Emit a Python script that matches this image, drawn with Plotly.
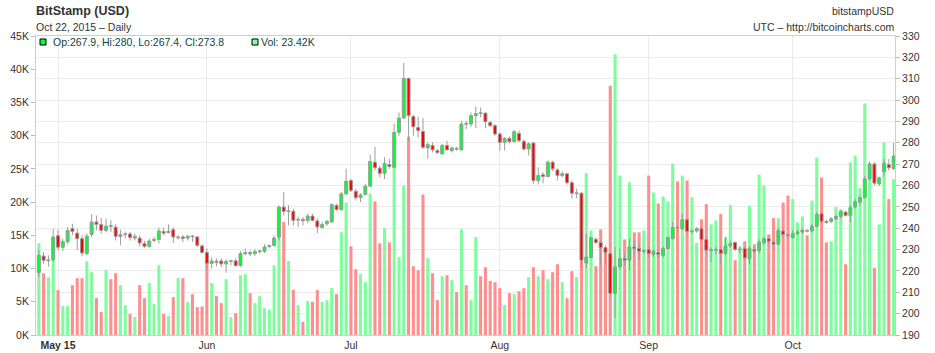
import pandas as pd
import plotly.graph_objects as go

start_date = "2015-04-27"
opens = [219.3,227.0,224.8,225.3,236.5,231.1,233.7,239.8,237.7,235.1,228.1,237.1,242.9,241.7,239.0,241.2,240.5,236.2,237.0,237.3,
235.4,235.4,232.8,231.5,234.3,234.7,238.5,238.0,239.3,235.5,235.9,235.4,236.2,235.9,231.7,228.6,223.5,224.5,224.7,223.3,
224.5,224.7,222.5,228.0,228.6,228.1,229.0,229.2,231.4,232.0,235.9,249.9,247.8,247.9,243.8,244.1,243.7,245.7,243.4,240.4,
242.1,242.9,250.7,248.7,256.1,262.3,257.3,254.3,255.8,259.7,270.9,268.1,265.7,269.8,268.5,284.9,291.6,310.1,292.3,287.2,
285.3,277.6,278.7,276.3,274.8,278.7,276.3,277.3,276.7,288.9,288.8,292.7,294.0,293.9,289.5,288.0,284.1,280.2,282.1,280.5,
284.4,280.7,277.1,279.9,262.3,265.0,264.2,270.9,267.3,264.7,265.5,261.3,256.2,256.4,223.7,226.3,234.8,233.3,230.9,228.1,
209.5,221.9,225.8,225.0,231.2,230.5,229.2,230.0,227.7,228.6,227.3,230.5,235.1,240.4,239.8,244.0,238.4,238.7,239.8,234.7,
229.6,229.7,230.0,228.1,231.7,233.3,229.9,230.5,225.6,230.0,229.5,233.1,235.1,233.5,232.5,238.7,236.9,235.6,237.5,238.2,
238.9,238.7,240.9,246.8,243.2,243.2,244.4,245.5,247.5,246.0,249.9,252.2,254.3,263.1,270.1,260.8,266.5,269.8,267.9]
highs = [229.7,228.9,227.3,239.8,239.3,235.1,240.5,242.1,239.8,236.7,237.5,246.5,246.0,244.9,244.4,243.7,241.8,239.3,238.5,238.2,
237.5,236.7,234.0,235.1,235.9,240.3,240.3,241.8,240.5,236.7,236.8,236.8,236.7,236.2,232.5,230.5,226.3,225.8,225.8,225.5,
225.2,225.8,229.2,230.5,229.7,230.2,230.0,232.5,232.5,236.7,250.7,256.9,250.7,249.1,245.5,245.2,246.8,246.8,244.5,242.9,
243.8,251.7,251.5,256.9,267.8,263.1,258.5,256.4,260.8,274.5,278.2,269.3,273.2,272.4,289.0,294.2,317.5,310.6,293.1,292.2,
291.6,280.2,280.2,277.1,279.5,281.0,278.2,278.2,290.3,290.3,294.2,297.0,296.5,294.2,290.3,288.8,284.9,282.6,282.9,286.0,
285.7,281.5,280.2,280.2,268.5,266.2,271.7,271.6,268.1,266.7,265.7,262.3,258.6,256.9,237.5,235.9,235.6,234.7,232.0,228.9,
231.2,230.5,228.1,235.1,234.3,232.8,230.0,231.2,230.0,229.7,231.6,236.2,242.9,241.3,246.8,244.5,239.3,240.6,240.6,235.6,
231.0,231.2,231.2,235.9,233.9,233.9,231.2,231.2,231.5,231.2,234.7,235.9,236.0,234.3,240.3,240.2,237.9,239.0,239.3,240.0,
239.5,242.1,247.6,247.6,244.0,245.2,246.3,248.7,248.2,250.7,253.7,255.4,264.6,271.3,270.9,264.2,272.4,272.4,280.0]
lows = [217.2,223.4,221.9,224.2,229.7,229.3,232.5,236.7,229.7,226.9,227.3,235.9,239.0,237.5,238.2,238.1,234.3,232.0,235.3,234.3,
234.3,231.5,230.9,230.9,233.5,232.8,236.7,237.5,233.1,234.7,233.5,234.3,233.6,231.2,228.1,220.3,221.1,222.2,221.8,219.1,
222.7,221.8,221.9,227.3,227.0,227.0,228.1,228.4,230.9,231.2,234.3,246.0,241.3,241.3,240.6,241.3,242.4,243.2,237.7,239.8,
241.0,242.4,248.3,248.3,255.3,256.9,253.0,252.2,255.3,259.2,267.0,263.9,263.1,267.8,268.3,283.3,291.1,281.0,283.3,282.5,
277.1,272.5,275.5,274.8,274.4,276.3,275.5,276.3,276.3,286.5,287.5,286.9,291.9,286.9,287.5,283.3,276.3,276.3,279.7,280.2,
280.2,276.3,274.0,260.8,260.5,261.1,263.9,266.8,262.3,263.9,260.5,253.8,254.0,221.1,221.1,225.8,232.5,222.7,223.5,207.9,
197.8,220.3,222.7,220.3,228.1,225.0,228.1,226.5,226.6,226.2,226.2,230.0,234.7,239.2,239.0,237.5,237.5,237.9,234.3,228.1,
224.2,227.7,223.1,227.3,230.9,229.3,228.1,225.0,223.1,228.1,228.1,232.3,232.5,231.9,231.9,235.7,235.1,235.1,236.7,237.5,
238.0,238.1,240.3,242.4,242.0,242.3,243.8,244.4,245.5,242.9,249.1,250.6,253.8,262.3,260.1,259.8,264.2,267.0,267.4]
closes = [227.3,225.0,225.2,235.9,231.1,233.7,238.9,238.5,235.1,228.4,236.3,242.9,241.8,239.0,241.0,240.9,236.2,237.0,237.2,235.7,
236.2,233.1,231.5,234.0,234.8,238.7,237.7,238.6,235.9,235.9,235.2,236.3,236.0,232.0,228.7,223.5,224.7,223.9,223.3,224.4,
224.8,222.5,228.1,228.6,228.0,229.1,229.4,231.2,231.9,235.4,249.9,247.9,248.1,243.7,244.1,243.5,245.7,243.7,240.6,241.7,
243.2,251.0,248.7,256.1,262.0,257.7,254.3,255.6,259.7,271.3,268.3,265.7,270.4,268.9,284.9,291.6,310.1,292.7,287.5,285.7,
277.9,279.1,276.7,275.4,278.7,276.7,277.6,277.0,288.8,288.7,292.7,293.7,293.7,289.9,288.0,284.1,280.2,282.1,280.5,285.2,
281.0,277.1,279.5,262.3,264.7,264.2,270.9,267.8,264.7,265.5,261.3,256.4,256.5,225.0,226.5,235.6,233.3,230.9,228.6,209.5,
221.9,225.8,225.0,231.2,230.5,229.2,229.5,228.1,229.2,227.7,230.5,235.6,240.3,240.2,244.0,238.5,238.6,239.8,234.7,229.7,
229.8,230.0,228.1,231.7,232.8,230.1,230.1,226.1,230.5,229.3,233.5,235.1,233.9,232.5,239.0,237.1,236.5,237.5,238.2,239.0,
238.6,240.9,246.5,243.2,242.7,244.4,245.5,247.9,246.0,249.6,252.5,254.3,263.1,270.1,261.1,263.6,270.4,268.3,273.8]
volumes_k = [13.8,9.3,8.7,14.5,6.75,4.35,4.35,7.5,8.55,8.55,11.1,9.45,5.55,3.45,9.75,8.4,9.3,7.5,4.5,3.15,
2.7,7.5,5.55,7.8,4.65,10.5,3.15,2.85,5.7,8.55,8.55,4.95,6.15,4.2,4.3,10.9,7.8,5.85,4.8,8.4,
2.7,3.3,9.0,9.15,6.3,4.8,5.85,4.05,3.8,10.5,15.5,17.0,11.15,6.8,4.5,1.95,5.1,5.0,6.75,5.0,
5.25,7.05,6.15,15.45,19.95,13.35,9.9,9.15,7.95,21.3,20.1,13.8,16.05,13.95,26.0,11.7,22.5,29.85,10.35,9.75,
21.15,11.55,9.3,5.25,8.85,9.0,8.25,6.45,15.9,7.5,5.25,14.75,8.85,10.2,8.15,7.95,7.05,4.5,6.3,6.15,
6.6,7.05,8.7,10.2,8.85,9.75,8.4,9.45,10.65,7.95,5.55,9.6,8.7,15.0,24.35,15.75,10.35,15.9,12.5,37.5,
42.25,24.0,14.4,22.95,15.45,15.45,15.75,24.0,21.45,19.8,20.85,20.1,25.8,23.1,24.0,23.25,20.75,13.85,17.4,19.7,
16.65,17.25,18.2,14.7,19.55,11.25,13.35,14.1,19.4,13.65,24.15,22.5,15.15,17.6,17.6,19.95,21.0,20.45,16.95,17.85,
15.0,20.25,26.7,23.7,13.95,14.1,19.25,18.9,10.65,26.0,27.0,22.1,34.85,25.0,10.1,16.65,29.0,20.45,23.42]

month_ticks = ["2015-05-01", "2015-06-01", "2015-07-01", "2015-08-01", "2015-09-01", "2015-10-01"]
month_labels = ["<b>May 15</b>", "Jun", "Jul", "Aug", "Sep", "Oct"]
vol_ticks = [0, 5, 10, 15, 20, 25, 30, 35, 40, 45]
price_ticks = [190, 200, 210, 220, 230, 240, 250, 260, 270, 280, 290, 300, 310, 320, 330]

dates = pd.date_range(start_date, periods=len(opens), freq="D")
DAY_MS = 86400000

W, H = 935, 353
ML, MR, MT, MB = 36, 40, 36, 18
PW, PH = W - ML - MR, H - MT - MB

def px2x(px):
    return (px - ML) / PW

def px2y(py):
    return 1 - (py - MT) / PH

GREEN_VOL = "#7dfd9c"
RED_VOL = "#ff8f8f"
GREEN_C = "#00ff33"
RED_C = "#ff0000"
rising = [c >= o for o, c in zip(opens, closes)]
vol_colors = [GREEN_VOL if r else RED_VOL for r in rising]
body_colors = [GREEN_C if r else RED_C for r in rising]
body_base = [min(o, c) for o, c in zip(opens, closes)]
body_len = [max(abs(c - o), 0.35) for o, c in zip(opens, closes)]
wick_len = [h - l for h, l in zip(highs, lows)]

fig = go.Figure()
fig.add_trace(go.Bar(
    x=dates, y=volumes_k, marker=dict(color=vol_colors, line=dict(width=0)),
    width=0.64 * DAY_MS, yaxis="y", hoverinfo="skip", showlegend=False,
))
fig.add_trace(go.Bar(
    x=dates, y=wick_len, base=lows, marker=dict(color="#9a9a9a", line=dict(width=0)),
    width=0.2 * DAY_MS, yaxis="y2", hoverinfo="skip", showlegend=False,
))
fig.add_trace(go.Bar(
    x=dates, y=body_len, base=body_base,
    marker=dict(color=body_colors, line=dict(color="#9a9a9a", width=1)),
    width=0.62 * DAY_MS, yaxis="y2", hoverinfo="skip", showlegend=False,
))

font_family = "Arial, Liberation Sans, sans-serif"
FS = 10.5
axis_font = dict(family=font_family, size=FS, color="#333333")

fig.update_layout(
    width=W, height=H, autosize=False,
    margin=dict(l=ML, r=MR, t=MT, b=MB, pad=0),
    paper_bgcolor="white", plot_bgcolor="white",
    font=axis_font, showlegend=False, barmode="overlay",
    xaxis=dict(
        type="date", range=["2015-04-26 10:00", "2015-10-22 07:00"],
        tickvals=month_ticks, ticktext=month_labels, tickfont=axis_font,
        showgrid=True, gridcolor="#ebebeb", gridwidth=1,
        showline=True, linecolor="#cfcfcf", linewidth=1, mirror=True,
        ticks="", automargin=False,
        zeroline=False, fixedrange=True,
    ),
    yaxis=dict(
        range=[0, 45], tickvals=vol_ticks, ticktext=[f"{v}K" for v in vol_ticks],
        tickfont=axis_font, showgrid=False, zeroline=False, automargin=False,
        showline=True, linecolor="#cfcfcf", linewidth=1,
        ticks="outside", ticklen=4, tickcolor="#bbbbbb", fixedrange=True,
    ),
    yaxis2=dict(
        range=[190, 330], tickvals=price_ticks, overlaying="y", side="right",
        tickfont=axis_font, showgrid=True, gridcolor="#ebebeb", gridwidth=1,
        zeroline=False, showline=True, linecolor="#cfcfcf", linewidth=1, automargin=False,
        ticks="outside", ticklen=4, tickcolor="#bbbbbb", fixedrange=True,
    ),
)

last_legend = f"Op:{opens[-1]:g}, Hi:{highs[-1]:g}, Lo:{lows[-1]:g}, Cl:{closes[-1]:g}"
vol_legend = f"Vol: {volumes_k[-1]:g}K"
title_date = dates[-1].strftime("%b %d, %Y") + " \u2013 Daily"

annots = [
    dict(text="<b>BitStamp (USD)</b>", x=px2x(34), y=px2y(11), xanchor="left", yanchor="middle",
         font=dict(family=font_family, size=12.5, color="#333333")),
    dict(text=title_date, x=px2x(34), y=px2y(27), xanchor="left", yanchor="middle",
         font=dict(family=font_family, size=FS, color="#333333")),
    dict(text="bitstampUSD", x=px2x(896), y=px2y(11), xanchor="right", yanchor="middle",
         font=dict(family=font_family, size=FS, color="#333333")),
    dict(text="UTC \u2013 http://bitcoincharts.com", x=px2x(896), y=px2y(27), xanchor="right", yanchor="middle",
         font=dict(family=font_family, size=FS, color="#333333")),
    dict(text=last_legend, x=px2x(51), y=px2y(42), xanchor="left", yanchor="middle",
         font=dict(family=font_family, size=FS, color="#0d4545")),
    dict(text=vol_legend, x=px2x(259), y=px2y(42), xanchor="left", yanchor="middle",
         font=dict(family=font_family, size=FS, color="#0d4545")),
]
for a in annots:
    a.update(xref="paper", yref="paper", showarrow=False)
fig.update_layout(annotations=annots)

fig.update_layout(shapes=[
    dict(type="rect", xref="paper", yref="paper", x0=px2x(40), x1=px2x(46), y0=px2y(45), y1=px2y(39),
         fillcolor=GREEN_C, line=dict(color="#000000", width=1)),
    dict(type="rect", xref="paper", yref="paper", x0=px2x(252), x1=px2x(258), y0=px2y(45), y1=px2y(39),
         fillcolor=GREEN_VOL, line=dict(color="#000000", width=1)),
])

fig.write_html("out.html", config={"displayModeBar": False, "staticPlot": True})
